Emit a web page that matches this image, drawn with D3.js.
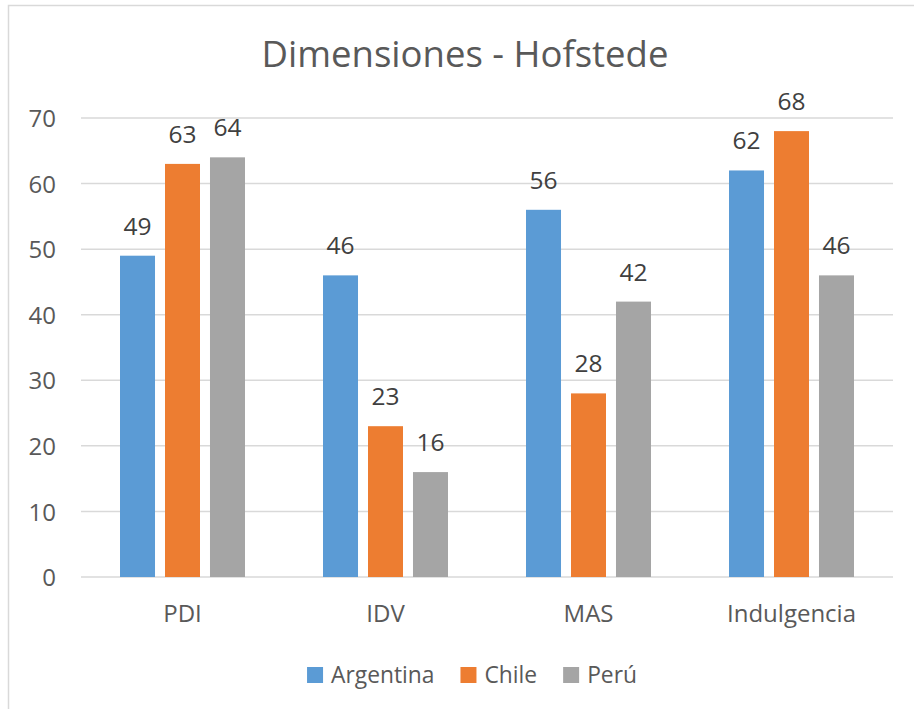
<!DOCTYPE html>
<html>
<head>
<meta charset="utf-8">
<script src="https://cdn.jsdelivr.net/npm/d3@7"></script>
<style>
  body { margin: 0; background: #fff; }
  text { font-family: "Open Sans", "Noto Sans", sans-serif; }
</style>
</head>
<body>
<div id="chart"></div>
<script>
var categories = ["PDI", "IDV", "MAS", "Indulgencia"];
var series = ["Argentina", "Chile", "Perú"];
var argentina = [49, 46, 56, 62];
var chile = [63, 23, 28, 68];
var peru = [64, 16, 42, 46];
var yTicks = [0, 10, 20, 30, 40, 50, 60, 70];
var colors = ["#5B9BD5", "#ED7D31", "#A5A5A5"];

var values = [argentina, chile, peru];

var W = 914, H = 709;
var svg = d3.select("#chart")
    .append("svg")
    .attr("width", W)
    .attr("height", H);

// chart frame (runs past the window on the right and bottom)
svg.append("rect")
    .attr("x", 8.5)
    .attr("y", 5.5)
    .attr("width", 1000)
    .attr("height", 1000)
    .attr("fill", "#fff")
    .attr("stroke", "#D9D9D9")
    .attr("stroke-width", 1.5);

svg.append("text")
    .attr("x", 465)
    .attr("y", 67)
    .attr("text-anchor", "middle")
    .attr("fill", "#595959")
    .attr("font-size", 36.5)
    .text("Dimensiones - Hofstede");

var x0 = d3.scaleBand()
    .domain(categories)
    .range([81, 893]);

var x1 = d3.scaleBand()
    .domain(series)
    .range([0, x0.bandwidth()])
    .paddingInner(0.222)
    .paddingOuter(0.867);

var y = d3.scaleLinear()
    .domain([0, 70])
    .range([577, 118]);

// gridlines
svg.append("g")
    .selectAll("line")
    .data(yTicks)
    .join("line")
    .attr("x1", 81)
    .attr("x2", 893)
    .attr("y1", function(d){ return y(d); })
    .attr("y2", function(d){ return y(d); })
    .attr("stroke", "#D9D9D9")
    .attr("stroke-width", 1.5);

// y axis labels
var yAxis = svg.append("g")
    .attr("transform", "translate(56,0)")
    .call(d3.axisLeft(y).tickValues(yTicks).tickSize(0).tickPadding(0));
yAxis.select(".domain").remove();
yAxis.selectAll("text")
    .attr("fill", "#595959")
    .attr("font-size", 24)
    .attr("font-family", "'Open Sans', 'Noto Sans', sans-serif")
    .attr("dy", "0.36em");

// x axis labels
var xAxis = svg.append("g")
    .attr("transform", "translate(0,577)")
    .call(d3.axisBottom(x0).tickSize(0).tickPadding(0));
xAxis.select(".domain").remove();
xAxis.selectAll("text")
    .attr("fill", "#595959")
    .attr("font-size", 24)
    .attr("font-family", "'Open Sans', 'Noto Sans', sans-serif")
    .attr("dy", 0)
    .attr("y", 45);

// bars
var groups = svg.append("g")
    .selectAll("g")
    .data(series)
    .join("g")
    .attr("fill", function(d, i){ return colors[i]; });

groups.selectAll("rect")
    .data(function(s, i){ return categories.map(function(c, j){ return {cat: c, s: s, v: values[i][j]}; }); })
    .join("rect")
    .attr("x", function(d){ return x0(d.cat) + x1(d.s); })
    .attr("y", function(d){ return y(d.v); })
    .attr("width", x1.bandwidth())
    .attr("height", function(d){ return y(0) - y(d.v); });

groups.selectAll("text")
    .data(function(s, i){ return categories.map(function(c, j){ return {cat: c, s: s, v: values[i][j]}; }); })
    .join("text")
    .attr("x", function(d){ return x0(d.cat) + x1(d.s) + x1.bandwidth() / 2; })
    .attr("y", function(d){ return y(d.v) - 21; })
    .attr("text-anchor", "middle")
    .attr("fill", "#404040")
    .attr("font-size", 24.5)
    .text(function(d){ return d.v; });

// legend
var legend = svg.append("g");
var lx = 0;
series.forEach(function(s, i){
    var item = legend.append("g").attr("transform", "translate(" + lx + ",0)");
    item.append("rect")
        .attr("x", 0)
        .attr("y", 667)
        .attr("width", 16)
        .attr("height", 16)
        .attr("fill", colors[i]);
    var t = item.append("text")
        .attr("x", 24)
        .attr("y", 683)
        .attr("fill", "#595959")
        .attr("font-size", 22.8)
        .text(s);
    lx += 24 + t.node().getComputedTextLength() + 26;
});
var legendW = lx - 26;
legend.attr("transform", "translate(" + (472 - legendW / 2) + ",0)");
</script>
</body>
</html>
